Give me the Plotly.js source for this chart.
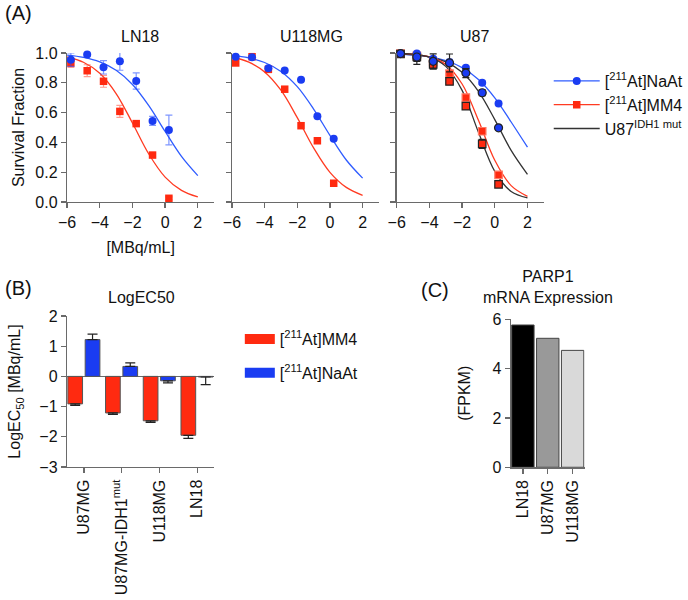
<!DOCTYPE html>
<html>
<head>
<meta charset="utf-8">
<script src="https://cdn.plot.ly/plotly-3.0.1.min.js"></script>
<style>
  html, body { margin: 0; padding: 0; background: #fff; }
  #chart { width: 688px; height: 600px; }
</style>
</head>
<body>
<div id="chart"></div>
<script>
// ---- (A) survival fraction vs log10 activity ----
const doseLog = [-5.77, -4.77, -3.77, -2.77, -1.77, -0.77, 0.23];

const ln18NaAt = [0.955, 0.989, 0.904, 0.944, 0.812, 0.544, 0.483];
const ln18NaAtErr = [0.045, 0.01, 0.045, 0.06, 0.055, 0.03, 0.1];
const ln18MM4 = [0.933, 0.881, 0.81, 0.608, 0.526, 0.315, 0.025];
const ln18MM4Err = [0.03, 0.04, 0.04, 0.04, 0.01, 0.01, 0.01];

const u118NaAt = [0.975, 0.971, 0.897, 0.883, 0.82, 0.575, 0.425];
const u118MM4 = [0.933, 0.975, 0.89, 0.757, 0.512, 0.411, 0.126];

const u87NaAt = [0.996, 0.996, 0.962, 0.937, 0.901, 0.8, 0.661];
const u87NaAtErr = [0.005, 0.01, 0.01, 0.02, 0.01, 0.01, 0.01];
const u87IdhNaAt = [0.996, 0.973, 0.944, 0.933, 0.865, 0.733, 0.498];
const u87IdhNaAtErr = [0.005, 0.05, 0.05, 0.06, 0.03, 0.02, 0.01];
const u87MM4 = [0.996, 0.98, 0.939, 0.861, 0.7, 0.475, 0.182];
const u87MM4Err = [0.005, 0.02, 0.02, 0.02, 0.02, 0.02, 0.01];
const u87IdhMM4 = [0.993, 0.973, 0.924, 0.809, 0.643, 0.39, 0.119];
const u87IdhMM4Err = [0.005, 0.03, 0.03, 0.02, 0.02, 0.03, 0.01];

// fitted curves at whole log units
const fitX = [-6, -5, -4, -3, -2, -1, 0, 1, 2];
const fitLn18NaAt = [0.985, 0.97, 0.94, 0.884, 0.789, 0.647, 0.473, 0.306, 0.177];
const fitLn18MM4 = [0.973, 0.938, 0.864, 0.728, 0.53, 0.322, 0.167, 0.078, 0.034];
const fitU118NaAt = [0.984, 0.968, 0.936, 0.876, 0.774, 0.624, 0.447, 0.282, 0.16];
const fitU118MM4 = [0.973, 0.94, 0.873, 0.75, 0.566, 0.363, 0.199, 0.098, 0.045];
const fitU87NaAt = [0.993, 0.987, 0.974, 0.948, 0.902, 0.822, 0.699, 0.537, 0.368];
const fitU87IdhNaAt = [0.995, 0.988, 0.973, 0.94, 0.87, 0.742, 0.553, 0.347, 0.186];
const fitU87MM4 = [0.997, 0.992, 0.974, 0.923, 0.792, 0.549, 0.28, 0.11, 0.038];
const fitU87IdhMM4 = [0.997, 0.992, 0.972, 0.91, 0.749, 0.468, 0.206, 0.071, 0.028];

// ---- (B) LogEC50 ----
const ec50Cells = ["U87MG", "U87MG-IDH1<sup>mut</sup>", "U118MG", "LN18"];
const ec50MM4 = [-0.91, -1.21, -1.47, -1.95];
const ec50MM4Err = [0.05, 0.05, 0.05, 0.1];
const ec50NaAt = [1.22, 0.33, -0.145, -0.02];
const ec50NaAtErr = [0.18, 0.12, 0.07, 0.25];

// ---- (C) PARP1 mRNA ----
const parpCells = ["LN18", "U87MG", "U118MG"];
const parpFpkm = [5.77, 5.23, 4.74];

const BLUE = "#1a3cf2";
const RED = "#ff2a10";
const BLUE_LINE = "#2f5cff";
const RED_LINE = "#ff3b22";
const AXIS = "#6a6a6a";
const FONT = "Liberation Sans, Arial, Helvetica, sans-serif";
const FS = 16;

// Prism style: error bar points away from zero
const awayPlus = (v, e) => v.map((val, i) => (val >= 0 ? e[i] : 0));
const awayMinus = (v, e) => v.map((val, i) => (val < 0 ? e[i] : 0));

function curve(y, color, ax) {
  return {
    x: fitX, y: y, xaxis: "x" + ax, yaxis: "y" + ax,
    mode: "lines", line: { color: color, width: 1.3, shape: "spline" },
    showlegend: false, hoverinfo: "skip",
  };
}

function points(y, err, ax, symbol, color, outline, errColor) {
  const t = {
    x: doseLog, y: y, xaxis: "x" + ax, yaxis: "y" + ax,
    mode: "markers", cliponaxis: false, showlegend: false,
    marker: {
      symbol: symbol, size: symbol === "square" ? 7.5 : 8,
      color: color, line: { color: outline, width: outline ? 1.2 : 0 },
    },
  };
  if (err) {
    t.error_y = { type: "data", array: err, visible: true, color: errColor, thickness: 1.2, width: 3.5 };
  }
  return t;
}

const traces = [
  // LN18
  curve(fitLn18NaAt, BLUE_LINE, ""),
  curve(fitLn18MM4, RED_LINE, ""),
  points(ln18MM4, ln18MM4Err, "", "square", RED, null, "rgba(255,90,70,0.6)"),
  points(ln18NaAt, ln18NaAtErr, "", "circle", BLUE, null, "rgba(40,80,255,0.6)"),
  // U118MG
  curve(fitU118NaAt, BLUE_LINE, "2"),
  curve(fitU118MM4, RED_LINE, "2"),
  points(u118MM4, null, "2", "square", RED, null),
  points(u118NaAt, null, "2", "circle", BLUE, null),
  // U87
  curve(fitU87NaAt, BLUE_LINE, "3"),
  curve(fitU87IdhNaAt, "#333", "3"),
  curve(fitU87MM4, RED_LINE, "3"),
  curve(fitU87IdhMM4, "#333", "3"),
  points(u87MM4, u87MM4Err, "3", "square", RED, "#ff7a66", "rgba(255,90,70,0.7)"),
  points(u87IdhMM4, u87IdhMM4Err, "3", "square", RED, "#222", "#222"),
  points(u87NaAt, u87NaAtErr, "3", "circle", BLUE, null, "rgba(40,80,255,0.6)"),
  points(u87IdhNaAt, u87IdhNaAtErr, "3", "circle", BLUE, "#222", "#222"),
  // legend entries for (A)
  { x: [null], y: [null], mode: "lines+markers", name: "[<sup>211</sup>At]NaAt",
    line: { color: BLUE_LINE, width: 1.3 }, marker: { symbol: "circle", size: 8, color: BLUE }, legend: "legend" },
  { x: [null], y: [null], mode: "lines+markers", name: "[<sup>211</sup>At]MM4",
    line: { color: RED_LINE, width: 1.3 }, marker: { symbol: "square", size: 7.5, color: RED }, legend: "legend" },
  { x: [null], y: [null], mode: "lines", name: "U87<sup>IDH1 mut</sup>",
    line: { color: "#333", width: 1.3 }, legend: "legend", legendgroup: "idh" },
  // (B) bars
  {
    type: "bar", x: ec50Cells, y: ec50MM4, xaxis: "x4", yaxis: "y4",
    offset: -0.43, width: 0.39, showlegend: false,
    marker: { color: RED, line: { color: "#555", width: 1 } },
    error_y: { type: "data", symmetric: false, array: awayPlus(ec50MM4, ec50MM4Err),
      arrayminus: awayMinus(ec50MM4, ec50MM4Err), color: "#222", thickness: 1.2, width: 5 },
  },
  {
    type: "bar", x: ec50Cells, y: ec50NaAt, xaxis: "x4", yaxis: "y4",
    offset: 0.03, width: 0.39, showlegend: false,
    marker: { color: BLUE, line: { color: "#555", width: 1 } },
    error_y: { type: "data", symmetric: false, array: awayPlus(ec50NaAt, ec50NaAtErr),
      arrayminus: awayMinus(ec50NaAt, ec50NaAtErr), color: "#222", thickness: 1.2, width: 5 },
  },
  { x: [null], y: [null], mode: "lines", name: "[<sup>211</sup>At]MM4", legend: "legend2",
    legendgroup: "b1", line: { color: RED, width: 10 } },
  { x: [null], y: [null], mode: "lines", name: "[<sup>211</sup>At]NaAt", legend: "legend2",
    legendgroup: "b2", line: { color: BLUE, width: 10 } },
  // (C) bars
  {
    type: "bar", x: parpCells, y: parpFpkm, xaxis: "x5", yaxis: "y5",
    width: 0.9, showlegend: false,
    marker: { color: ["#000000", "#999999", "#d9d9d9"], line: { color: "#444", width: 1 } },
  },
];

const axisBase = {
  showline: true, linecolor: AXIS, linewidth: 1.3,
  ticks: "outside", ticklen: 5, tickwidth: 1.3, tickcolor: AXIS,
  showgrid: false, zeroline: false,
  tickfont: { family: FONT, size: FS, color: "#111" },
};

const doseAxis = (dom, title) => ({
  ...axisBase, domain: dom, range: [-6, 3], tick0: 0, dtick: 2,
  title: title ? { text: title, font: { family: FONT, size: FS }, standoff: 12 } : undefined,
});
const survAxis = (anchor, labels, title) => ({
  ...axisBase, domain: [0.6633, 0.9117], range: [0, 1], dtick: 0.2, tickformat: ".1f",
  anchor: anchor, showticklabels: labels,
  title: title ? { text: title, font: { family: FONT, size: FS }, standoff: 6 } : undefined,
});

const titleAnn = (text, x, y, size) => ({
  text: text, xref: "paper", yref: "paper", x: x / 688, y: 1 - y / 600,
  xanchor: "center", yanchor: "middle", showarrow: false,
  font: { family: FONT, size: size || FS, color: "#111" },
});

const layout = {
  width: 688, height: 600,
  margin: { l: 0, r: 0, t: 0, b: 0 },
  paper_bgcolor: "#fff", plot_bgcolor: "rgba(0,0,0,0)",
  font: { family: FONT, color: "#111", size: FS },
  barmode: "overlay",
  xaxis: doseAxis([0.0988, 0.3154], "[MBq/mL]"),
  yaxis: survAxis("x", true, "Survival Fraction"),
  xaxis2: { ...doseAxis([0.3416, 0.5581]), anchor: "y2" },
  yaxis2: survAxis("x2", false),
  xaxis3: { ...doseAxis([0.5843, 0.8009]), anchor: "y3" },
  yaxis3: survAxis("x3", false),
  xaxis4: {
    ...axisBase, domain: [0.0988, 0.3154], anchor: "y4", range: [-0.45, 3.45],
    tickangle: -90,
  },
  yaxis4: {
    ...axisBase, domain: [0.2217, 0.4733], anchor: "x4", range: [-3, 2], dtick: 1,
    zeroline: true, zerolinecolor: AXIS, zerolinewidth: 1.3,
    title: { text: "LogEC<sub>50</sub> [MBq/mL]", font: { family: FONT, size: FS }, standoff: 14 },
  },
  xaxis5: {
    ...axisBase, domain: [0.7525, 0.8609], anchor: "y5", range: [-0.48, 2.48],
    tickangle: -90,
  },
  yaxis5: {
    ...axisBase, domain: [0.2212, 0.4678], anchor: "x5", range: [0, 6], dtick: 2,
    title: { text: "(FPKM)", font: { family: FONT, size: FS }, standoff: 18 },
  },
  legend: {
    x: 556 / 688, y: 1 - 64 / 600, xanchor: "left", yanchor: "top",
    bgcolor: "rgba(0,0,0,0)", font: { family: FONT, size: FS, color: "#111" },
    itemwidth: 46, tracegroupgap: 0,
  },
  legend2: {
    x: 243 / 688, y: 1 - 322 / 600, xanchor: "left", yanchor: "top",
    bgcolor: "rgba(0,0,0,0)", font: { family: FONT, size: FS, color: "#111" },
    tracegroupgap: 10,
  },
  annotations: [
    titleAnn("(A)", 19, 13, 20),
    titleAnn("(B)", 19, 288, 20),
    titleAnn("(C)", 441, 290, 20),
    titleAnn("LN18", 142, 37),
    titleAnn("U118MG", 316, 37),
    titleAnn("U87", 481, 37),
    titleAnn("LogEC50", 143, 298),
    titleAnn("PARP1<br>mRNA Expression", 555, 287),
  ],
};

Plotly.newPlot("chart", traces, layout, { displayModeBar: false, staticPlot: true });
</script>
</body>
</html>
